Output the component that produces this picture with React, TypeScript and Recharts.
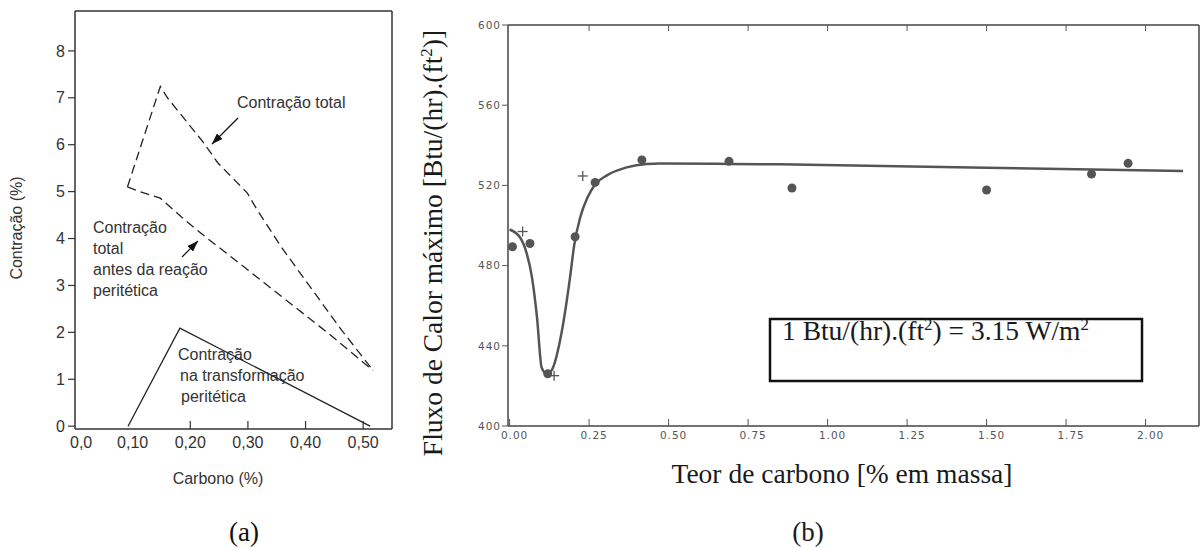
import React from 'react';
import { LineChart, ComposedChart, Line, Scatter, XAxis, YAxis } from 'recharts';

// (a) contração vs carbono
const totalUpperC = [0.091, 0.148, 0.161, 0.222, 0.248, 0.299, 0.316, 0.359, 0.46, 0.517];
const totalUpperV = [5.1, 7.24, 6.99, 6.06, 5.61, 4.97, 4.61, 3.8, 2.09, 1.19];
const beforeC = [0.091, 0.113, 0.148, 0.191, 0.229, 0.274, 0.4375, 0.517];
const beforeV = [5.1, 5.0, 4.86, 4.39, 4.01, 3.58, 2.0, 1.19];
const peritC = [0.092, 0.182, 0.512];
const peritV = [0, 2.09, 0];
const aTicksX = [0, 0.1, 0.2, 0.3, 0.4, 0.5];
const aTickLabels = ['0,0', '0,10', '0,20', '0,30', '0,40', '0,50'];
const aTicksY = [0, 1, 2, 3, 4, 5, 6, 7, 8];

// (b) fluxo de calor vs teor de carbono
const curveC = [0, 0.033, 0.054, 0.07, 0.086, 0.101, 0.117, 0.133, 0.164, 0.19, 0.203, 0.222, 0.245, 0.269, 0.306, 0.368, 0.431, 0.473, 0.69, 0.85, 1.5, 2.118];
const curveF = [498, 494, 486, 474.5, 454.5, 429, 426, 428, 447, 474, 490, 504, 514, 520.5, 525, 529, 530.7, 530.9, 530.7, 530.5, 528.8, 527.2];
const dotC = [0.009, 0.064, 0.206, 0.269, 0.416, 0.69, 0.888, 1.5, 1.83, 1.945, 0.12];
const dotF = [489.4, 491, 494.4, 521.5, 532.7, 532, 518.7, 517.7, 525.7, 531, 426];
const plusC = [0.041, 0.23, 0.14];
const plusF = [497, 524.7, 425.1];
const bTicksX = [0, 0.25, 0.5, 0.75, 1.0, 1.25, 1.5, 1.75, 2.0];
const bTickLabels = ['0.00', '0.25', '0.50', '0.75', '1.00', '1.25', '1.50', '1.75', '2.00'];
const bTicksY = [400, 440, 480, 520, 560, 600];

const zip = (xs: number[], ys: number[]) => xs.map((x, i) => ({ x, y: ys[i] }));

const SANS = '"Liberation Sans", Arial, sans-serif';
const SERIF = '"Liberation Serif", "Times New Roman", serif';
const TICKFONT = '"DejaVu Sans", sans-serif';

const AxisBottomA = (props: any) => {
  const { x, y, payload, index } = props;
  const v = payload.value;
  return (
    <g>
      {v >= 0.15 && <line x1={x} y1={y} x2={x} y2={y - 8} stroke="#333" strokeWidth={1.2} />}
      <text x={v === 0 ? x - 5 : x} y={y + 19} textAnchor={v === 0 ? 'start' : 'middle'} fontSize={16} fontFamily={SANS} fill="#333">
        {aTickLabels[index]}
      </text>
    </g>
  );
};

const AxisBottomB = (props: any) => {
  const { x, y, index } = props;
  return (
    <g>
      <line x1={x} y1={y} x2={x} y2={y - 7} stroke="#555" strokeWidth={1} />
      <text x={x + 5} y={y + 13} textAnchor="middle" fontSize={10.5} letterSpacing={1} fontFamily={TICKFONT} fill="#555">
        {bTickLabels[index]}
      </text>
    </g>
  );
};

const TopTickB = (props: any) => (
  <line x1={props.x} y1={props.y} x2={props.x} y2={props.y + 6} stroke="#555" strokeWidth={1} />
);

const RightTickB = (props: any) => (
  <line x1={props.x - 6} y1={props.y} x2={props.x} y2={props.y} stroke="#555" strokeWidth={1} />
);

const Dot = (props: any) => <circle cx={props.cx} cy={props.cy} r={4.5} fill="#555" />;

const Plus = (props: any) => (
  <g stroke="#555" strokeWidth={1.3}>
    <line x1={props.cx - 5} y1={props.cy} x2={props.cx + 5} y2={props.cy} />
    <line x1={props.cx} y1={props.cy - 5} x2={props.cx} y2={props.cy + 5} />
  </g>
);

function ChartA() {
  return (
    <LineChart width={400} height={547} margin={{ top: 10, right: 7, bottom: 78, left: 25 }}>
      <defs>
        <marker id="arrowA" markerWidth={11} markerHeight={8} refX={11} refY={4} orient="auto" markerUnits="userSpaceOnUse">
          <path d="M0,0 L11,4 L0,8 z" fill="#111" />
        </marker>
      </defs>
      <XAxis xAxisId="b" type="number" dataKey="x" domain={[0, 0.55]} ticks={aTicksX} allowDataOverflow
        height={40} tickSize={0} tickMargin={0} tickLine={false} tick={<AxisBottomA />}
        axisLine={{ stroke: '#333', strokeWidth: 1.5 }} />
      <XAxis xAxisId="t" orientation="top" type="number" dataKey="x" domain={[0, 0.55]} height={1}
        ticks={[]} tick={false} tickLine={false} axisLine={{ stroke: '#333', strokeWidth: 1.5 }} />
      <YAxis yAxisId="l" type="number" domain={[-0.06, 8.85]} ticks={aTicksY} allowDataOverflow width={50}
        tickSize={7} tickMargin={3} tick={{ fontSize: 16, fontFamily: SANS, fill: '#333' }}
        tickLine={{ stroke: '#333', strokeWidth: 1.2 }} axisLine={{ stroke: '#333', strokeWidth: 1.5 }} />
      <YAxis yAxisId="r" orientation="right" type="number" domain={[-0.06, 8.85]} width={1}
        ticks={[]} tick={false} tickLine={false} axisLine={{ stroke: '#333', strokeWidth: 1.5 }} />
      <Line xAxisId="b" yAxisId="l" data={zip(totalUpperC, totalUpperV)} dataKey="y" type="linear"
        stroke="#222" strokeWidth={1.3} strokeDasharray="9 5" dot={false} isAnimationActive={false} />
      <Line xAxisId="b" yAxisId="l" data={zip(beforeC, beforeV)} dataKey="y" type="linear"
        stroke="#222" strokeWidth={1.3} strokeDasharray="9 5" dot={false} isAnimationActive={false} />
      <Line xAxisId="b" yAxisId="l" data={zip(peritC, peritV)} dataKey="y" type="linear"
        stroke="#222" strokeWidth={1.3} dot={false} isAnimationActive={false} />

      <g fontFamily={SANS} fontSize={16} fill="#333">
        <text x={237} y={108}>Contração total</text>
        <text x={93} y={233}>Contração</text>
        <text x={93} y={254}>total</text>
        <text x={93} y={275}>antes da reação</text>
        <text x={93} y={296}>peritética</text>
        <text x={178} y={360}>Contração</text>
        <text x={180} y={381}>na transformação</text>
        <text x={181} y={402}>peritética</text>
        <text x={218} y={484} textAnchor="middle">Carbono (%)</text>
        <text x={22} y={228} textAnchor="middle" transform="rotate(-90, 22, 228)">Contração (%)</text>
      </g>
      <line x1={238} y1={118} x2={212} y2={144} stroke="#111" strokeWidth={1.2} markerEnd="url(#arrowA)" />
      <line x1={182} y1={257} x2={198} y2={241} stroke="#111" strokeWidth={1.2} markerEnd="url(#arrowA)" />
      <text x={244} y={541} textAnchor="middle" fontFamily={SERIF} fontSize={27} fill="#111">(a)</text>
    </LineChart>
  );
}

function ChartB() {
  return (
    <ComposedChart width={804} height={547} margin={{ top: 24, right: 4, bottom: 91, left: 48 }}>
      <XAxis xAxisId="b" type="number" dataKey="x" domain={[-0.005, 2.168]} ticks={bTicksX} allowDataOverflow
        height={30} tickSize={0} tickMargin={0} tickLine={false} tick={<AxisBottomB />}
        axisLine={{ stroke: '#444', strokeWidth: 1.5 }} />
      <XAxis xAxisId="t" orientation="top" type="number" dataKey="x" domain={[-0.005, 2.168]} ticks={bTicksX.slice(1)}
        allowDataOverflow height={1} tickSize={0} tickMargin={0} tickLine={false} tick={<TopTickB />}
        axisLine={{ stroke: '#444', strokeWidth: 1.5 }} />
      <YAxis yAxisId="l" type="number" domain={[400, 600]} ticks={bTicksY} allowDataOverflow width={60}
        tickSize={6} tickMargin={1} tick={{ fontSize: 10.5, letterSpacing: 1, fontFamily: TICKFONT, fill: '#555' }}
        tickLine={{ stroke: '#555', strokeWidth: 1 }} axisLine={{ stroke: '#444', strokeWidth: 1.5 }} />
      <YAxis yAxisId="r" orientation="right" type="number" domain={[400, 600]} ticks={bTicksY.slice(1, 5)}
        width={1} tickSize={0} tickMargin={0} tickLine={false} tick={<RightTickB />}
        axisLine={{ stroke: '#444', strokeWidth: 1.5 }} />
      <Line xAxisId="b" yAxisId="l" data={zip(curveC, curveF)} dataKey="y" type="monotone"
        stroke="#555" strokeWidth={2.5} dot={false} isAnimationActive={false} />
      <Scatter xAxisId="b" yAxisId="l" data={zip(dotC, dotF)} dataKey="y" shape={<Dot />} isAnimationActive={false} />
      <Scatter xAxisId="b" yAxisId="l" data={zip(plusC, plusF)} dataKey="y" shape={<Plus />} isAnimationActive={false} />

      <g fontFamily={SERIF} fill="#1a1a1a">
        <text x={42} y={243} fontSize={27.5} textAnchor="middle" transform="rotate(-90, 42, 243)">
          Fluxo de Calor máximo [Btu/(hr).(ft<tspan dy={-10} fontSize={17}>2</tspan><tspan dy={10}>)]</tspan>
        </text>
        <text x={442} y={483} fontSize={27.5} textAnchor="middle">Teor de carbono [% em massa]</text>
        <rect x={370} y={319} width={372} height={62} fill="#fff" stroke="#111" strokeWidth={2.5} />
        <text x={382} y={340} fontSize={27.5}>
          1 Btu/(hr).(ft<tspan dy={-10} fontSize={17}>2</tspan><tspan dy={10}>) = 3.15 W/m</tspan>
          <tspan dy={-10} fontSize={17}>2</tspan>
        </text>
        <text x={408} y={541} fontSize={27} textAnchor="middle">(b)</text>
      </g>
    </ComposedChart>
  );
}

export default function App() {
  return (
    <div style={{ position: 'absolute', left: 0, top: 0, width: 1204, height: 547, background: '#fff' }}>
      <div style={{ position: 'absolute', left: 0, top: 0 }}>
        <ChartA />
      </div>
      <div style={{ position: 'absolute', left: 400, top: 0 }}>
        <ChartB />
      </div>
    </div>
  );
}
